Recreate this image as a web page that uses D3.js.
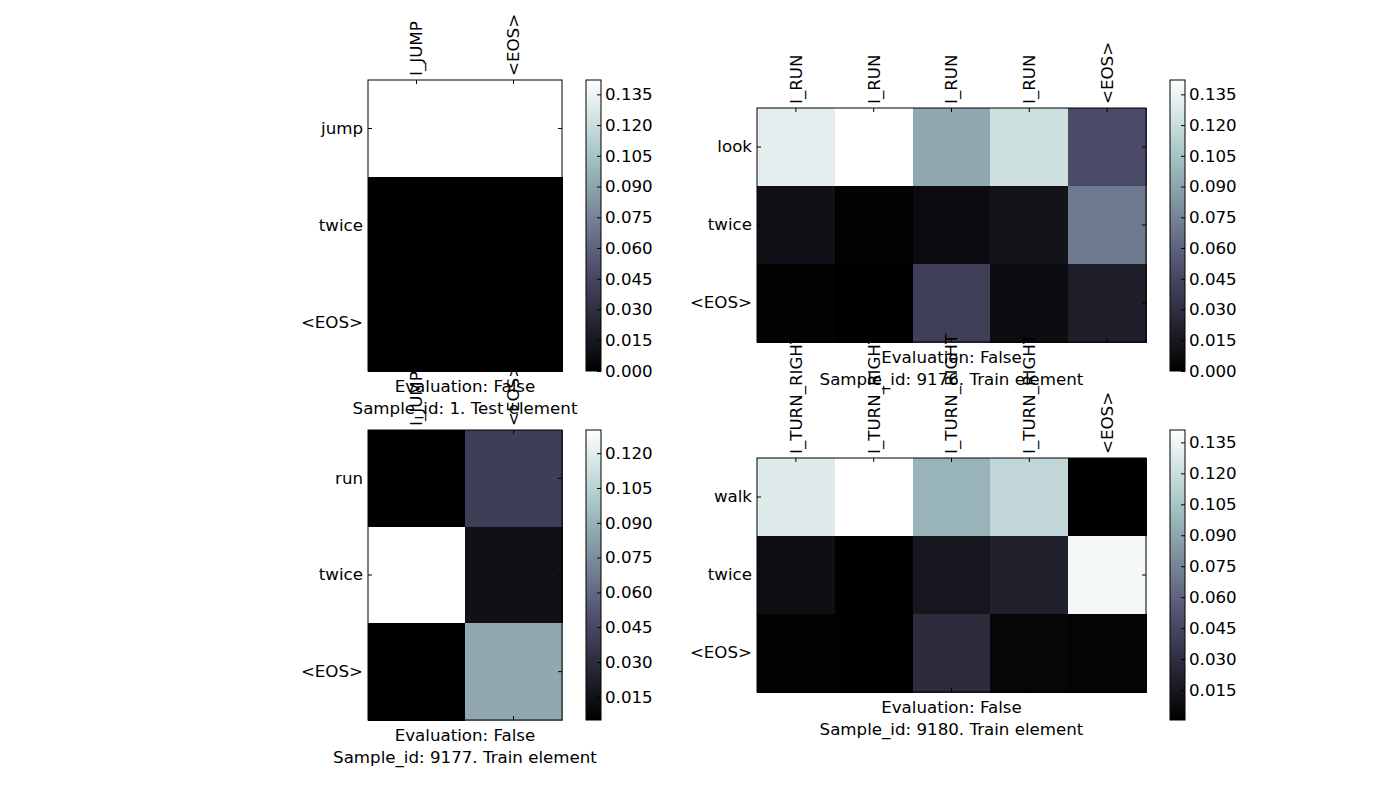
<!DOCTYPE html>
<html>
<head>
<meta charset="utf-8">
<script src="https://cdn.jsdelivr.net/npm/d3@7"></script>
<style>
  html, body { margin: 0; padding: 0; background: #fff; }
  text { font-family: "DejaVu Sans", sans-serif; font-size: 16.67px; fill: #000; }
</style>
</head>
<body>
<svg id="fig" width="1381" height="801"></svg>
<script>
const FIG_W = 1381
const FIG_H = 801
const FONT = '16.67px'

// ---- data ----
const ROWS_1 = ["jump", "twice", "<EOS>"]
const COLS_1 = ["I_JUMP", "<EOS>"]
const VALUES_1 = [
    [0.142, 0.142],
    [0.000, 0.000],
    [0.000, 0.000]
]
const TITLE_1 = ["Evaluation: False", "Sample_id: 1. Test element"]
const TICKS_1 = [0.000, 0.015, 0.030, 0.045, 0.060, 0.075, 0.090, 0.105, 0.120, 0.135]

const ROWS_2 = ["look", "twice", "<EOS>"]
const COLS_2 = ["I_RUN", "I_RUN", "I_RUN", "I_RUN", "<EOS>"]
const VALUES_2 = [
    [0.131, 0.142, 0.092, 0.122, 0.048],
    [0.010, 0.001, 0.007, 0.012, 0.070],
    [0.002, 0.000, 0.040, 0.008, 0.020]
]
const TITLE_2 = ["Evaluation: False", "Sample_id: 9176. Train element"]
const TICKS_2 = [0.000, 0.015, 0.030, 0.045, 0.060, 0.075, 0.090, 0.105, 0.120, 0.135]

const ROWS_3 = ["run", "twice", "<EOS>"]
const COLS_3 = ["I_JUMP", "<EOS>"]
const VALUES_3 = [
    [0.005, 0.040],
    [0.130, 0.014],
    [0.005, 0.086]
]
const TITLE_3 = ["Evaluation: False", "Sample_id: 9177. Train element"]
const TICKS_3 = [0.015, 0.030, 0.045, 0.060, 0.075, 0.090, 0.105, 0.120]

const ROWS_4 = ["walk", "twice", "<EOS>"]
const COLS_4 = ["I_TURN_RIGHT", "I_TURN_RIGHT", "I_TURN_RIGHT", "I_TURN_RIGHT", "<EOS>"]
const VALUES_4 = [
    [0.128, 0.141, 0.097, 0.116, 0.0005],
    [0.0095, 0.001, 0.0146, 0.021, 0.136],
    [0.002, 0.001, 0.028, 0.004, 0.003]
]
const TITLE_4 = ["Evaluation: False", "Sample_id: 9180. Train element"]
const TICKS_4 = [0.015, 0.030, 0.045, 0.060, 0.075, 0.090, 0.105, 0.120, 0.135]

// ---- layout (pixel boxes of each heatmap and its colorbar) ----
const LAYOUT = [
    { x: 368, y: 80,  w: 194, h: 291, cbx: 586,  cby: 80,  cbh: 291 },
    { x: 757, y: 108, w: 389, h: 234, cbx: 1170, cby: 80,  cbh: 291 },
    { x: 368, y: 430, w: 194, h: 290, cbx: 586,  cby: 430, cbh: 290 },
    { x: 757, y: 458, w: 389, h: 234, cbx: 1170, cby: 430, cbh: 290 }
]
const CB_W = 15
const TICK_LEN = 4

// matplotlib "bone" colormap, piecewise linear per channel
const boneR = d3.scaleLinear().domain([0, 0.746032, 1]).range([0, 0.652778, 1])
const boneG = d3.scaleLinear().domain([0, 0.365079, 0.746032, 1]).range([0, 0.319444, 0.777778, 1])
const boneB = d3.scaleLinear().domain([0, 0.365079, 1]).range([0, 0.444444, 1])
function bone(t){
    t = Math.max(0, Math.min(1, t))
    return d3.rgb(boneR(t) * 255, boneG(t) * 255, boneB(t) * 255).formatHex()
}

const svg = d3.select('#fig')
svg.append('rect').attr('width', FIG_W).attr('height', FIG_H).attr('fill', '#fff')
const defs = svg.append('defs')

function drawPanel(idx, rows, cols, values, title, ticks){
    const L = LAYOUT[idx]
    const g = svg.append('g').attr('transform', `translate(${L.x},${L.y})`)

    const x = d3.scaleBand().domain(d3.range(cols.length)).range([0, L.w])
    const y = d3.scaleBand().domain(d3.range(rows.length)).range([0, L.h])

    const ext = d3.extent(values.flat())
    const norm = d3.scaleLinear().domain(ext).range([0, 1])

    const cells = []
    values.forEach((row, r) => row.forEach((v, c) => cells.push({ r, c, v })))

    g.selectAll('rect.cell')
        .data(cells)
        .join('rect')
        .attr('class', 'cell')
        .attr('x', d => x(d.c))
        .attr('y', d => y(d.r))
        .attr('width', x.bandwidth() + 0.5)
        .attr('height', y.bandwidth() + 0.5)
        .attr('fill', d => bone(norm(d.v)))
        .attr('shape-rendering', 'crispEdges')

    // axes, ticks pointing inward like matplotlib classic
    const top = g.append('g')
        .call(d3.axisTop(x).tickFormat(i => cols[i]).tickSizeInner(-TICK_LEN).tickSizeOuter(0).tickPadding(4))
    top.selectAll('text')
        .attr('transform', 'rotate(-90)')
        .attr('x', 4)
        .attr('y', 0)
        .attr('dy', '0.35em')
        .attr('text-anchor', 'start')

    g.append('g')
        .attr('transform', `translate(0,${L.h})`)
        .call(d3.axisBottom(x).tickFormat('').tickSizeInner(-TICK_LEN).tickSizeOuter(0))

    g.append('g')
        .call(d3.axisLeft(y).tickFormat(i => rows[i]).tickSizeInner(-TICK_LEN).tickSizeOuter(0).tickPadding(5))

    g.append('g')
        .attr('transform', `translate(${L.w},0)`)
        .call(d3.axisRight(y).tickFormat('').tickSizeInner(-TICK_LEN).tickSizeOuter(0))

    g.selectAll('.domain').remove()
    g.selectAll('.tick line').attr('stroke', '#000')
    g.selectAll('.tick text').style('font-size', FONT).style('font-family', '"DejaVu Sans", sans-serif')

    g.append('rect')
        .attr('width', L.w).attr('height', L.h)
        .attr('fill', 'none').attr('stroke', '#000').attr('stroke-width', 1)

    // labels under the heatmap
    g.selectAll('text.title')
        .data(title)
        .join('text')
        .attr('class', 'title')
        .attr('x', L.w / 2)
        .attr('y', (d, i) => L.h + 15 + i * 22)
        .attr('dy', '0.35em')
        .attr('text-anchor', 'middle')
        .text(d => d)

    // colorbar
    const gradId = 'bone' + idx
    const grad = defs.append('linearGradient')
        .attr('id', gradId)
        .attr('x1', 0).attr('y1', 1).attr('x2', 0).attr('y2', 0)
    d3.range(0, 1.0001, 0.02).forEach(t => {
        grad.append('stop').attr('offset', t).attr('stop-color', bone(t))
    })

    const cb = svg.append('g').attr('transform', `translate(${L.cbx},${L.cby})`)
    cb.append('rect')
        .attr('width', CB_W).attr('height', L.cbh)
        .attr('fill', `url(#${gradId})`)

    const cy = d3.scaleLinear().domain(ext).range([L.cbh, 0])
    cb.append('g')
        .attr('transform', `translate(${CB_W},0)`)
        .call(d3.axisRight(cy).tickValues(ticks).tickFormat(d3.format('.3f'))
            .tickSizeInner(-TICK_LEN).tickSizeOuter(0).tickPadding(4))
        .call(a => a.select('.domain').remove())
        .call(a => a.selectAll('.tick line').attr('stroke', '#000'))
        .call(a => a.selectAll('.tick text').style('font-size', FONT)
            .style('font-family', '"DejaVu Sans", sans-serif'))

    cb.append('rect')
        .attr('width', CB_W).attr('height', L.cbh)
        .attr('fill', 'none').attr('stroke', '#000').attr('stroke-width', 1)
}

drawPanel(0, ROWS_1, COLS_1, VALUES_1, TITLE_1, TICKS_1)
drawPanel(1, ROWS_2, COLS_2, VALUES_2, TITLE_2, TICKS_2)
drawPanel(2, ROWS_3, COLS_3, VALUES_3, TITLE_3, TICKS_3)
drawPanel(3, ROWS_4, COLS_4, VALUES_4, TITLE_4, TICKS_4)
</script>
</body>
</html>
